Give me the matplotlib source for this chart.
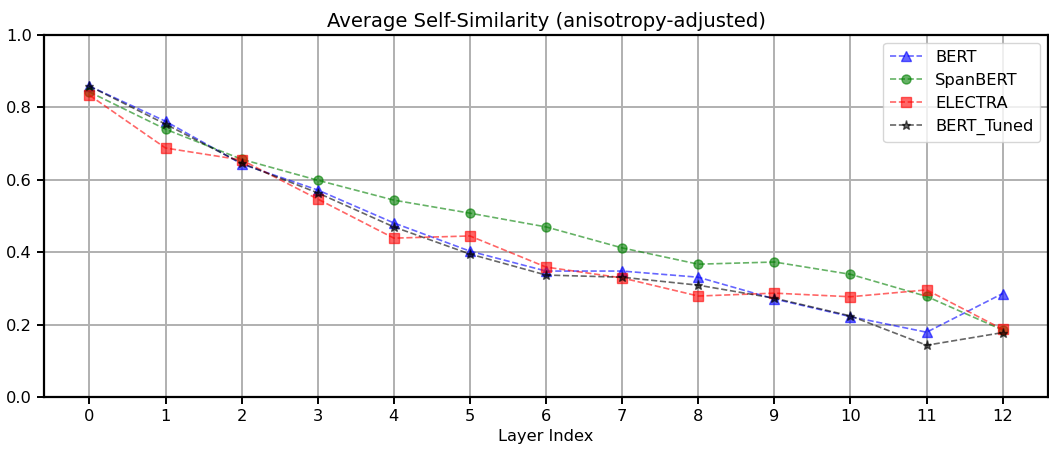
import numpy as np
import matplotlib
matplotlib.use("Agg")
import matplotlib.pyplot as plt

layers = np.arange(13)

bert = [0.859, 0.762, 0.644, 0.572, 0.481, 0.403, 0.348, 0.348, 0.331, 0.271, 0.222, 0.179, 0.286]
spanbert = [0.843, 0.740, 0.657, 0.599, 0.544, 0.508, 0.470, 0.412, 0.367, 0.373, 0.339, 0.278, 0.185]
electra = [0.834, 0.688, 0.655, 0.547, 0.439, 0.445, 0.359, 0.329, 0.279, 0.287, 0.277, 0.296, 0.187]
bert_tuned = [0.859, 0.754, 0.646, 0.564, 0.470, 0.395, 0.337, 0.331, 0.309, 0.273, 0.224, 0.143, 0.178]

plt.rcParams['font.size'] = 11.7

fig = plt.figure(figsize=(10.49, 4.49), dpi=100)
ax = fig.add_axes([0.0417, 0.1158, 0.9577, 0.806])

ax.plot(layers, bert, 'b^--', alpha=0.6, lw=1.2, ms=6.5, label='BERT')
ax.plot(layers, spanbert, 'go--', alpha=0.6, lw=1.2, ms=6.5, label='SpanBERT')
ax.plot(layers, electra, 'rs--', alpha=0.6, lw=1.2, ms=6.5, label='ELECTRA')
ax.plot(layers, bert_tuned, 'k*--', alpha=0.6, lw=1.2, ms=6.5, label='BERT_Tuned')

ax.set_ylim(0, 1.0)
ax.set_xticks(layers)
ax.set_xlabel('Layer Index')
ax.set_title('Average Self-Similarity (anisotropy-adjusted)', fontsize=14.1)
ax.grid(True, color='#b0b0b0', lw=1.4)
for s in ax.spines.values():
    s.set_linewidth(1.6)
ax.tick_params(width=1.4, length=5)
ax.legend(loc='upper right')

fig.savefig('out.png', dpi=100)
